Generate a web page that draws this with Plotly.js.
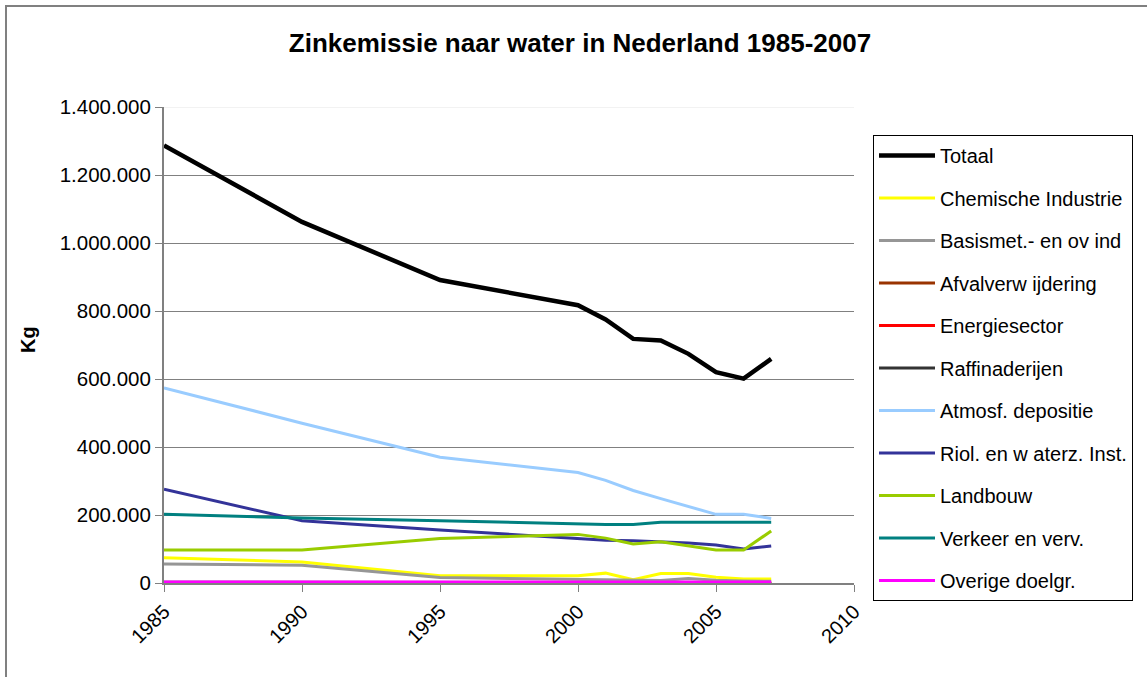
<!DOCTYPE html>
<html>
<head>
<meta charset="utf-8">
<script src="https://cdn.plot.ly/plotly-3.0.1.min.js"></script>
<style>html,body{margin:0;padding:0;background:#fff;}#chart{width:1147px;height:677px;}</style>
</head>
<body>
<div id="chart"></div>
<script>
const years = [1985, 1990, 1995, 2000, 2001, 2002, 2003, 2004, 2005, 2006, 2007];

const totaal        = [1287000, 1062000, 891000, 817000, 775000, 718000, 713000, 674000, 620000, 601000, 659000];
const chemische     = [74000, 62000, 21000, 21000, 29000, 10000, 28000, 28000, 17000, 12000, 12000];
const basismet      = [56000, 52000, 16000, 11000, 10000, 10000, 7000, 13000, 8000, 6000, 5000];
const afval         = [1000, 1000, 1000, 1000, 1000, 1000, 1000, 1000, 1000, 1000, 1000];
const energie       = [1500, 1500, 1000, 1000, 1000, 1000, 1000, 1000, 1000, 1000, 1000];
const raffinaderij  = [2000, 2000, 1500, 1000, 1000, 1000, 1000, 1000, 1000, 1000, 1000];
const atmosf        = [574000, 470000, 370000, 325000, 302000, 272000, 248000, 225000, 202000, 202000, 190000];
const riol          = [276000, 183000, 156000, 130000, 126000, 124000, 121000, 118000, 112000, 100000, 109000];
const landbouw      = [97000, 97000, 131000, 143000, 132000, 115000, 121000, 108000, 97000, 97000, 153000];
const verkeer       = [202000, 191000, 183000, 173000, 172000, 172000, 179000, 179000, 179000, 179000, 179000];
const overige       = [3000, 3000, 3000, 3000, 3000, 3000, 3000, 3000, 3000, 3000, 3000];

const seriesNames  = ['Totaal', 'Chemische Industrie', 'Basismet.- en ov ind', 'Afvalverw ijdering', 'Energiesector', 'Raffinaderijen', 'Atmosf. depositie', 'Riol. en w aterz. Inst.', 'Landbouw', 'Verkeer en verv.', 'Overige doelgr.'];
const seriesValues = [totaal, chemische, basismet, afval, energie, raffinaderij, atmosf, riol, landbouw, verkeer, overige];
const seriesColors = ['#000000', '#FFFF00', '#969696', '#993300', '#FF0000', '#333333', '#99CCFF', '#333399', '#99CC00', '#008080', '#FF00FF'];
const seriesWidths = [4.5, 3, 3, 3, 3, 3, 3, 3, 3, 3, 3];

const yTicks = [0, 200000, 400000, 600000, 800000, 1000000, 1200000, 1400000];
const xTicks = [1985, 1990, 1995, 2000, 2005, 2010];

const FONT = '"Liberation Sans", Arial, sans-serif';

const traces = seriesNames.map((n, i) => ({
  type: 'scatter',
  mode: 'lines',
  name: n,
  x: years,
  y: seriesValues[i],
  legendgroup: 'g' + i,
  line: {color: seriesColors[i], width: seriesWidths[i]},
  hoverinfo: 'x+y+name'
}));

const layout = {
  width: 1147,
  height: 677,
  margin: {l: 164, r: 293, t: 107, b: 94},
  paper_bgcolor: '#ffffff',
  plot_bgcolor: '#ffffff',
  separators: ',.',
  font: {family: FONT, size: 20, color: '#000'},
  title: {
    text: '<b>Zinkemissie naar water in Nederland 1985-2007</b>',
    font: {family: FONT, size: 26, color: '#000'},
    xref: 'container', yref: 'container',
    x: 580 / 1147, xanchor: 'center',
    y: 1 - 43 / 677, yanchor: 'middle'
  },
  xaxis: {
    range: [1985, 2010],
    tickvals: xTicks,
    ticktext: xTicks.map(String),
    tickangle: -45,
    ticks: 'outside', ticklen: 7, tickcolor: '#808080', tickwidth: 1,
    showline: true, linecolor: '#808080', linewidth: 2,
    showgrid: false, zeroline: false,
    tickfont: {family: FONT, size: 20, color: '#000'},
    fixedrange: true
  },
  yaxis: {
    range: [0, 1400000],
    tickvals: yTicks,
    tickformat: ',d',
    ticks: 'outside', ticklen: 7, tickcolor: '#808080', tickwidth: 1,
    showline: true, linecolor: '#808080', linewidth: 2,
    showgrid: true, gridcolor: '#808080', gridwidth: 1,
    zeroline: false,
    tickfont: {family: FONT, size: 20.5, color: '#000'},
    fixedrange: true
  },
  legend: {
    x: (873 - 164) / 690, xanchor: 'left',
    y: (583 - 135) / 476, yanchor: 'top',
    bordercolor: '#000', borderwidth: 1,
    bgcolor: '#fff',
    traceorder: 'grouped',
    tracegroupgap: 13.5,
    itemwidth: 56,
    font: {family: FONT, size: 20, color: '#000'}
  },
  shapes: [
    {type: 'line', xref: 'paper', yref: 'y', x0: 0, x1: 1, y0: 1400000, y1: 1400000,
     line: {color: '#e6e6e6', width: 1}, layer: 'above'},
    {type: 'rect', xref: 'paper', yref: 'paper', x0: (6 - 164) / 690, x1: 2.0, y0: (583 - 6) / 476, y1: -0.5,
     line: {color: '#808080', width: 2}, fillcolor: 'rgba(0,0,0,0)', layer: 'below'}
  ],
  annotations: [
    {text: '<b>Kg</b>', textangle: -90, xref: 'paper', yref: 'paper',
     x: (28 - 164) / 690, y: (583 - 340) / 476, showarrow: false,
     font: {family: FONT, size: 20, color: '#000'}, xanchor: 'center', yanchor: 'middle'}
  ]
};

Plotly.newPlot('chart', traces, layout, {displayModeBar: false, staticPlot: true});
</script>
</body>
</html>
